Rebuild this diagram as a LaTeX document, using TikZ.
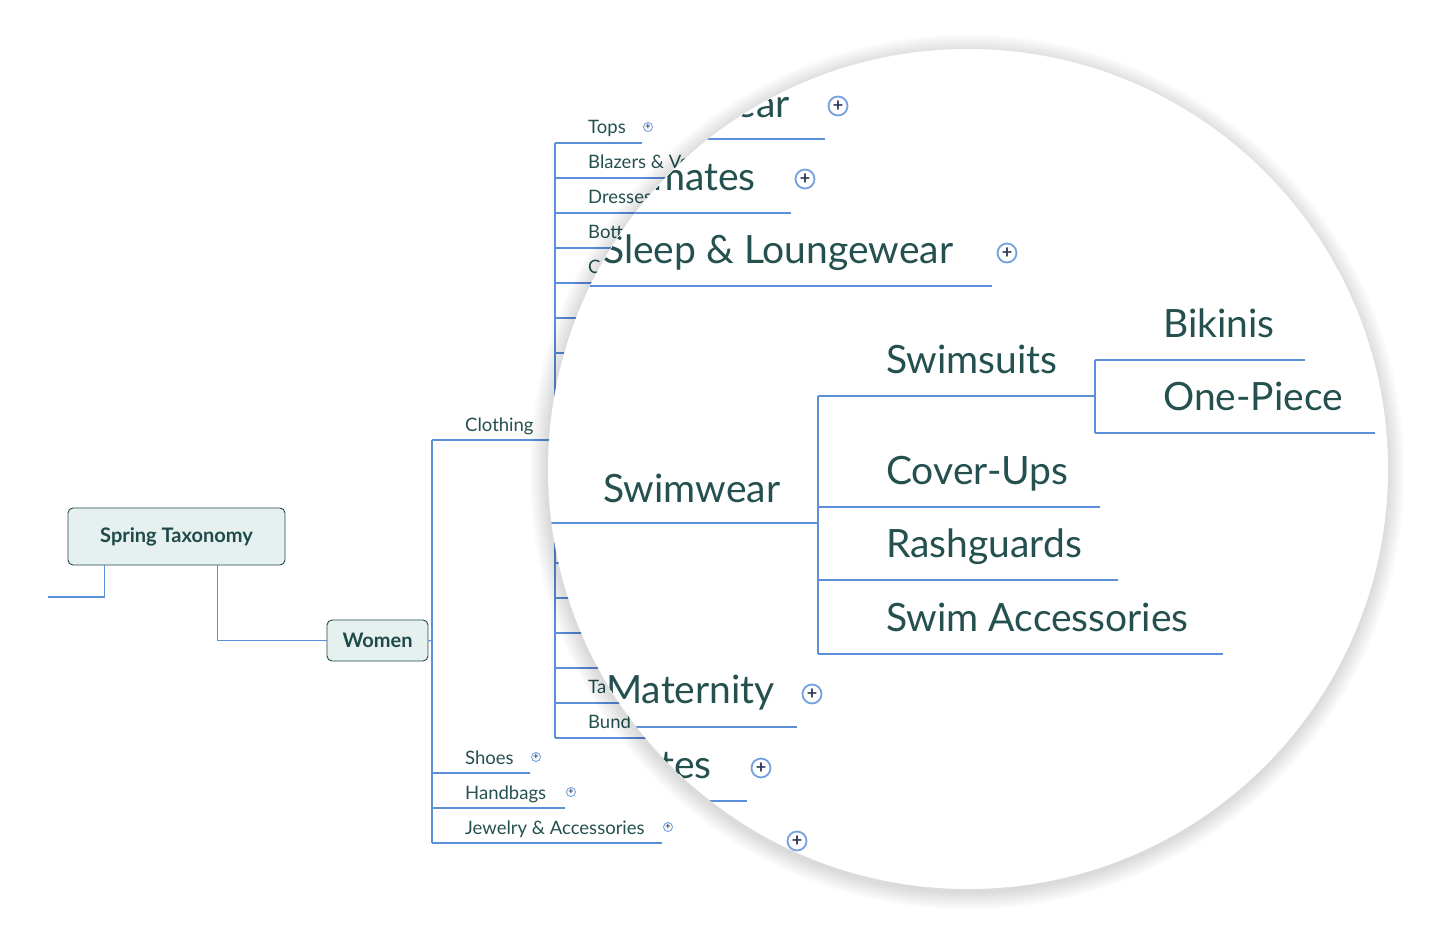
\documentclass[tikz,border=0pt]{standalone}
\usepackage{fontspec}
\setmainfont{Lato}
\usetikzlibrary{positioning}
\definecolor{txt}{HTML}{24504F}
\definecolor{lnk}{HTML}{5B8FDA}
\definecolor{boxf}{HTML}{E5F0EF}
\definecolor{boxd}{HTML}{1E4A49}
\definecolor{pls}{HTML}{2C3A58}

\begin{document}
\begin{tikzpicture}[x=1pt, y=-1pt,
	topic/.style={draw=boxd, fill=boxf, rounded corners=5pt, line width=0.9pt, text=boxd, font=\bfseries\fontsize{20}{22}\selectfont, inner sep=0pt},
	lbl/.style={anchor=base west, inner sep=0pt, text=txt, font=\fontsize{18.5}{20}\selectfont},
	big/.style={anchor=base west, inner sep=0pt, text=txt, font=\fontsize{39}{44}\selectfont},
	bigend/.style={big, anchor=base east},
	br/.style={draw=lnk, line width=1.1pt},
	bbr/.style={draw=lnk, line width=2.2pt},
	plus/.style={circle, draw=lnk!85, line width=0.9pt, minimum size=9pt, inner sep=0pt, text=pls, font=\bfseries\fontsize{9}{9}\selectfont},
	bplus/.style={circle, draw=lnk!85, line width=1.8pt, minimum size=19pt, inner sep=0pt, text=pls, font=\bfseries\fontsize{18}{18}\selectfont}]
	\useasboundingbox (0,0) rectangle (1437,938);
	% root and women
	\node[topic, minimum width=217pt, minimum height=57pt] (ST) at (176.5,536.5) {Spring Taxonomy};
	\node[topic, minimum width=101pt, minimum height=41pt] (W) at (377.5,640.5) {Women};
	\coordinate (L) at (48,597);
	\coordinate (WV) at (432,641);
	\draw[br] ([xshift=37pt]ST.south west) |- (L);
	\draw[br] ([xshift=150pt]ST.south west) |- (W.west);
	\draw[br] (W.east) -- (WV);
	% women children
	\coordinate (CloA) at (432,440); \coordinate (CloB) at (555,440);
	\coordinate (ShoA) at (432,773); \coordinate (ShoB) at (530,773);
	\coordinate (HbA) at (432,808); \coordinate (HbB) at (565,808);
	\coordinate (JwA) at (432,843); \coordinate (JwB) at (662,843);
	\draw[br] (CloA) -- (JwA);
	\draw[br] (CloA) -- (CloB);
	\draw[br] (ShoA) -- (ShoB);
	\draw[br] (HbA) -- (HbB);
	\draw[br] (JwA) -- (JwB);
	\node[lbl] (Clo) at (465,431) {Clothing};
	\node[lbl] (Sho) at (465,764) {Shoes};
	\node[lbl] (Hb) at (465,799) {Handbags};
	\node[lbl] (Jw) at (465,834) {Jewelry \& Accessories};
	\node[plus] (ShoP) at (536,757) {+};
	\node[plus] (HbP) at (571,792) {+};
	\node[plus] (JwP) at (668,827) {+};
	% clothing children
	\coordinate (c143) at (555,143);
	\coordinate (c738) at (555,738);
	\draw[br] (c143) -- (c738);
	\draw[br] (c143) -- ++(87,0);
	\foreach \y in {178,213,...,738} {
		\coordinate (c\y) at (555,\y);
		\draw[br] (c\y) -- ++(170,0);
	}
	\foreach \y/\t in {133/Tops, 168/Blazers \& Ve, 203/Dresses, 238/Bott, 273/C, 693/Ta, 728/Bund}
		\node[lbl] (t\y) at (588,\y) {\t};
	\node[plus] (TopsP) at (648,127) {+};
	% lens
	\coordinate (lens) at (968,469);
	\foreach \i in {1,...,18}
		\fill[black, opacity=0.009] ([shift={(-1,3)}]lens) circle (420pt+\i pt);
	\fill[white] (lens) circle (420pt);
	\begin{scope}
		\clip (lens) circle (420pt);
		% magnified clothing children
		\foreach \y/\e in {139/825, 213/791, 286/992, 523/818, 727/797, 801/747} {
			\coordinate (m\y) at (534,\y);
			\coordinate (e\y) at (\e,\y);
			\draw[bbr] (m\y) -- (e\y);
		}
		\node[bigend] (Ow) at (790,117) {wear};
		\node[bigend] (Im) at (756,190) {mates};
		\node[big] (Sl) at (603,263) {Sleep \& Loungewear};
		\node[big] (Sw) at (603,502) {Swimwear};
		\node[big] (Ma) at (606,703) {Maternity};
		\node[bigend] (Ac) at (712,778) {tes};
		\node[bplus] (OwP) at (838,106) {+};
		\node[bplus] (ImP) at (805,179) {+};
		\node[bplus] (SlP) at (1007,253) {+};
		\node[bplus] (MaP) at (812,694) {+};
		\node[bplus] (AcP) at (761,768) {+};
		\node[bplus] (XP) at (797,841) {+};
		% swimwear children
		\coordinate (s396) at (818,396); \coordinate (sE396) at (1095,396);
		\coordinate (s507) at (818,507); \coordinate (sE507) at (1100,507);
		\coordinate (s580) at (818,580); \coordinate (sE580) at (1118,580);
		\coordinate (s654) at (818,654); \coordinate (sE654) at (1223,654);
		\draw[bbr] (s396) -- (s654);
		\draw[bbr] (s396) -- (sE396);
		\draw[bbr] (s507) -- (sE507);
		\draw[bbr] (s580) -- (sE580);
		\draw[bbr] (s654) -- (sE654);
		\node[big] (Ss) at (886,373) {Swimsuits};
		\node[big] (Cu) at (886,484) {Cover-Ups};
		\node[big] (Rg) at (886,557) {Rashguards};
		\node[big] (Sa) at (886,631) {Swim Accessories};
		% swimsuits children
		\coordinate (b360) at (1095,360); \coordinate (bE360) at (1305,360);
		\coordinate (b433) at (1095,433); \coordinate (bE433) at (1375,433);
		\draw[bbr] (b360) -- (b433);
		\draw[bbr] (b360) -- (bE360);
		\draw[bbr] (b433) -- (bE433);
		\node[big] (Bk) at (1163,337) {Bikinis};
		\node[big] (Op) at (1163,410) {One-Piece};
	\end{scope}
\end{tikzpicture}
\end{document}
